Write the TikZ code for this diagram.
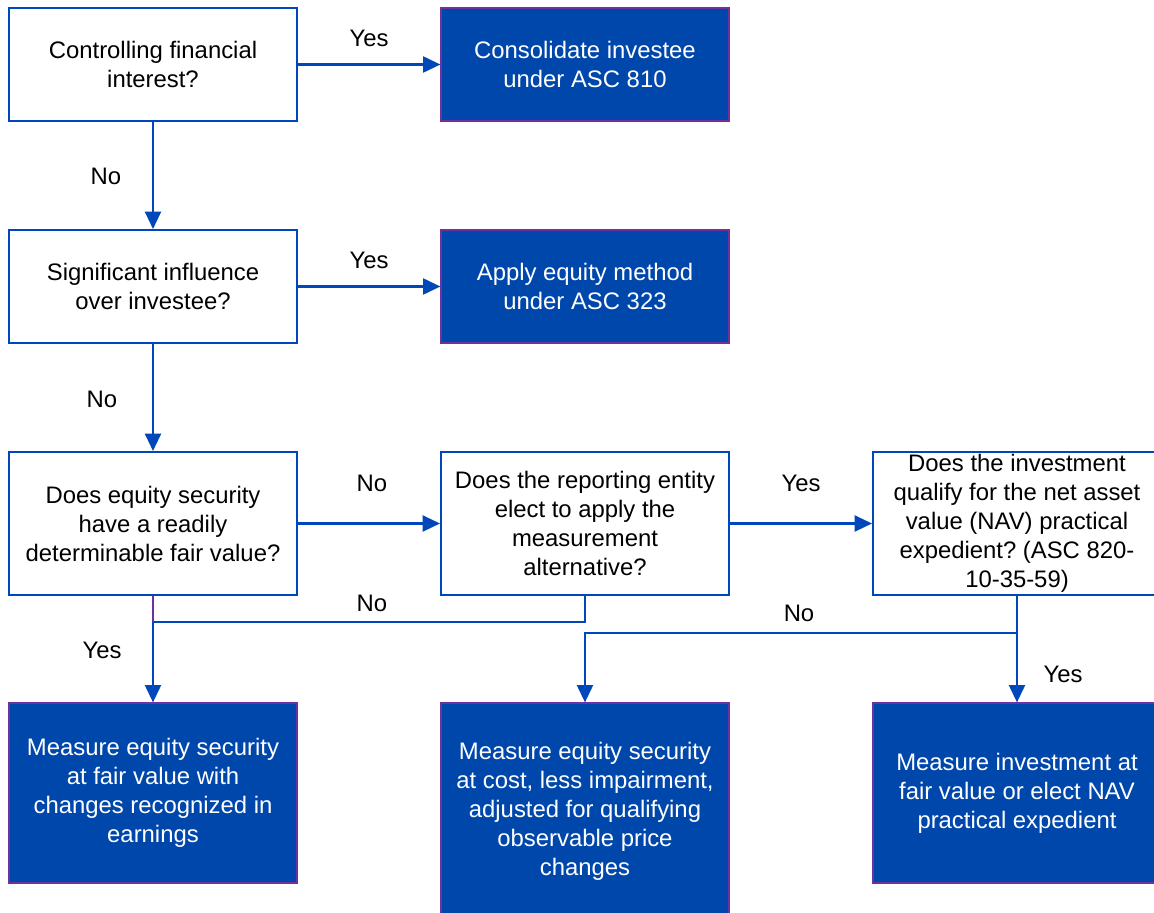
\documentclass[tikz,border=0pt]{standalone}
\usepackage{fontspec}
\setmainfont{Liberation Sans}
\usetikzlibrary{arrows.meta}
\definecolor{lineblue}{RGB}{0,72,186}
\definecolor{boxfill}{RGB}{0,71,171}
\definecolor{boxedge}{RGB}{112,48,160}
\frenchspacing
\begin{document}
\begin{tikzpicture}[x=0.75pt,y=-0.75pt,
  every node/.style={font=\fontsize{17.9pt}{21.75pt}\selectfont},
  qbox/.style={draw=lineblue,line width=1.5pt,fill=white,align=center,inner sep=0pt,minimum width=216pt},
  abox/.style={draw=boxedge,line width=0.9pt,fill=boxfill,text=white,align=center,inner sep=0pt,minimum width=216pt},
  conn/.style={draw=lineblue,line width=1.6pt},
  arr/.style={conn,-{Triangle[length=13pt,width=12pt]}},
  lbl/.style={inner sep=0pt}
]
\clip (0,0) rectangle (1154,913);
\fill[white] (0,0) rectangle (1154,913);

% top rows
\node[qbox,minimum height=84.75pt] (c1) at (153,64.5) {Controlling financial\\interest?};
\node[abox,minimum height=84.75pt] (c2) at (585,64.5) {Consolidate investee\\under ASC 810};
\node[qbox,minimum height=84.75pt] (c3) at (153,286.5) {Significant influence\\over investee?};
\node[abox,minimum height=84.75pt] (c4) at (585,286.5) {Apply equity method\\under ASC 323};

% decision row
\node[qbox,minimum height=107.25pt] (c5) at (153,523.5) {Does equity security\\have a readily\\determinable fair value?};
\node[qbox,minimum height=107.25pt] (c6) at (585,523.5) {Does the reporting entity\\elect to apply the\\measurement\\alternative?};
\node[qbox,minimum height=107.25pt] (c7) at (1017,523.5) {Does the investment\\qualify for the net asset\\value (NAV) practical\\expedient? (ASC 820-\\10-35-59)};

% results
\node[abox,minimum height=135pt] (r1) at (153,793) {Measure equity security\\at fair value with\\changes recognized in\\earnings};
\node[abox,minimum height=162pt] (r2) at (585,811) {Measure equity security\\at cost, less impairment,\\adjusted for qualifying\\observable price\\changes};
\node[abox,minimum height=135pt] (r3) at (1017,793) {Measure investment at\\fair value or elect NAV\\practical expedient};

\coordinate (j1) at (153,622);
\coordinate (j2) at (1017,633);

% connectors
\draw[arr] (c1.east) -- (c2.west);
\node[lbl] (l1) at (369,38) {Yes};
\draw[arr] (c1.south) -- (c3.north);
\node[lbl] (l2) at (106,176) {No};
\draw[arr] (c3.east) -- (c4.west);
\node[lbl] (l3) at (369,260) {Yes};
\draw[arr] (c3.south) -- (c5.north);
\node[lbl] (l4) at (102,399) {No};
\draw[arr] (c5.east) -- (c6.west);
\node[lbl] (l5) at (372,483) {No};
\draw[arr] (c6.east) -- (c7.west);
\node[lbl] (l6) at (801,483) {Yes};

\draw[draw=boxedge,line width=1.6pt] (c5.south) -- (j1);
\draw[conn] (c6.south) |- (j1);
\draw[arr] (j1) -- (r1.north);
\node[lbl] (l7) at (372,603) {No};
\node[lbl] (l8) at (102,650) {Yes};

\draw[arr] (c7.south) -- (r3.north);
\draw[arr] (j2) -| (r2.north);
\node[lbl] (l9) at (799,613) {No};
\node[lbl] (l10) at (1063,674) {Yes};
\end{tikzpicture}
\end{document}
